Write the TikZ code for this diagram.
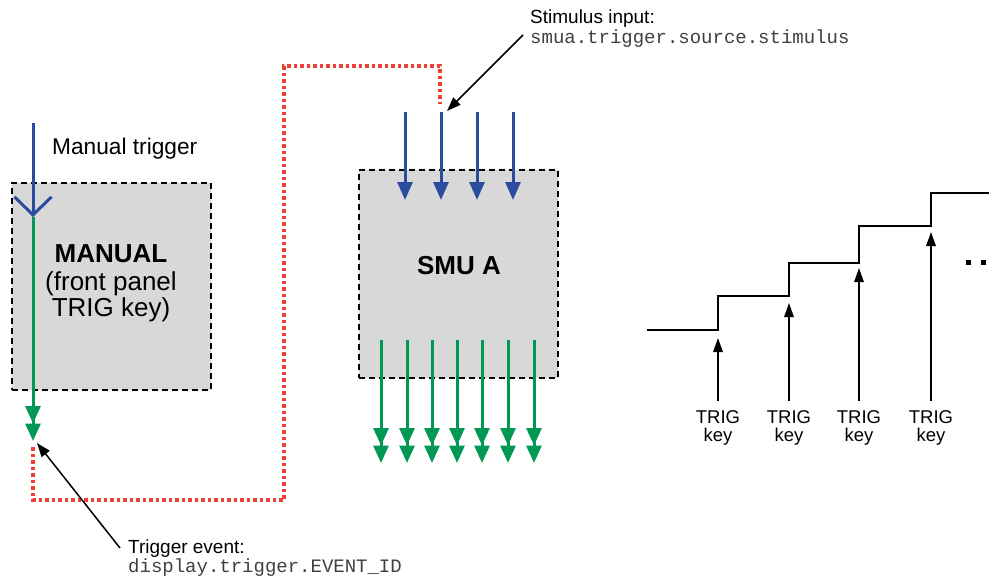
\documentclass[tikz,border=0pt]{standalone}
\usepackage{fontspec}
\setmainfont{Liberation Sans}
\setmonofont{Liberation Mono}
\usetikzlibrary{arrows.meta}
\definecolor{trigblue}{RGB}{43,76,158}
\definecolor{triggreen}{RGB}{0,152,82}
\definecolor{trigred}{RGB}{238,64,53}
\definecolor{boxgray}{RGB}{216,216,216}
\begin{document}
\begin{tikzpicture}[x=1pt,y=-1pt,
  blockbox/.style={draw=black, fill=boxgray, dash pattern=on 6pt off 4pt, line width=1.8pt, minimum width=199pt, minimum height=207pt, inner sep=0pt},
  bluearr/.style={draw=trigblue, line width=3pt, -{Triangle[width=15pt,length=18pt]}},
  greenarr/.style={draw=triggreen, line width=3pt, -{Triangle[width=15pt,length=17.5pt] Triangle[width=15pt,length=17.5pt]}},
  vbarb/.style={draw=trigblue, line width=3pt, -{Straight Barb[length=18pt,width=37pt]}},
  reddot/.style={draw=trigred, line width=3.5pt, line cap=butt, dash pattern=on 3.5pt off 3pt},
  notearr/.style={draw=black, line width=1.5pt, -{Triangle[width=10pt,length=14pt]}},
  uparr/.style={draw=black, line width=1.5pt, -{Triangle[width=9.5pt,length=14pt]}},
  stair/.style={draw=black, line width=2pt},
  lbl/.style={inner sep=0pt, font=\fontsize{19}{19}\selectfont},
  code/.style={inner sep=0pt, font=\fontsize{19}{19}\selectfont\ttfamily, text=black!75},
  big/.style={inner sep=0pt, font=\fontsize{26}{27}\selectfont},
  keylbl/.style={inner sep=0pt, align=center, font=\fontsize{18.5}{18}\selectfont}
]
\useasboundingbox (0,0) rectangle (989,579);

% blocks
\node[blockbox] (manual) at (111.5,286.5) {};
\node[blockbox, minimum height=208pt] (smu) at (458.5,274) {};

% texts
\node[lbl, anchor=base west, font=\fontsize{22.7}{22}\selectfont] (mtrig) at (52,154) {Manual trigger};
\node[big, anchor=base, font=\fontsize{26}{27}\selectfont\bfseries] (mt1) at (111,262) {MANUAL};
\node[big, anchor=base] (mt2) at (111,290) {(front panel};
\node[big, anchor=base] (mt3) at (111,316) {TRIG key)};
\node[big, anchor=base, font=\fontsize{26}{27}\selectfont\bfseries] (smut) at (459,274) {SMU A};

\node[lbl, anchor=base west] (stim) at (530,23) {Stimulus input:};
\node[code, anchor=base west] (stimcode) at (530,43) {smua.trigger.source.stimulus};
\node[lbl, anchor=base west] (tev) at (128,553) {Trigger event:};
\node[code, anchor=base west] (tevcode) at (128,572) {display.trigger.EVENT\_ID};

% manual trigger input and event output
\coordinate (mtop) at (33,123);
\coordinate (vtip) at (33,217);
\coordinate (mout) at (33,441);
\draw[vbarb] (mtop) -- (vtip);
\draw[greenarr] (vtip) -- (mout);

% red dotted link from trigger event to stimulus input
\coordinate (rd0) at (33,447);
\coordinate (rd1) at (284,500);
\coordinate (rd2) at (440,66);
\coordinate (rd3) at (440,104);
\draw[reddot] (rd0) |- (rd1) |- (rd2) -- (rd3);

% SMU inputs
\foreach \x [count=\i] in {405,441,477,513} {
  \coordinate (in\i a) at (\x,112);
  \coordinate (in\i b) at (\x,200);
  \draw[bluearr] (in\i a) -- (in\i b);
}
% SMU outputs
\foreach \x [count=\i] in {381,407,432,457,482,508,534} {
  \coordinate (out\i a) at (\x,340);
  \coordinate (out\i b) at (\x,463);
  \draw[greenarr] (out\i a) -- (out\i b);
}

% annotation arrows
\coordinate (stimtail) at (523,35);
\coordinate (stimtip) at (447,111);
\draw[notearr] (stimtail) -- (stimtip);
\coordinate (tevtail) at (120,548);
\coordinate (tevtip) at (37,443);
\draw[notearr] (tevtail) -- (tevtip);

% staircase
\draw[stair] (647,330) -- (718,330) -- (718,296) -- (789,296) -- (789,263) -- (859,263) -- (859,226) -- (931,226) -- (931,193) -- (989,193);
\fill[black] (966,259.5) rectangle (971,264.5);
\fill[black] (981,259.5) rectangle (986,264.5);

% TRIG key labels and arrows
\foreach \x/\t [count=\i] in {718/338,789/303,859/268,931/232} {
  \node[keylbl, anchor=north] (key\i) at (\x,410) {TRIG\\key};
  \coordinate (tip\i) at (\x,\t);
  \draw[uparr] ([yshift=9pt]key\i.north) -- (tip\i);
}
\end{tikzpicture}
\end{document}
